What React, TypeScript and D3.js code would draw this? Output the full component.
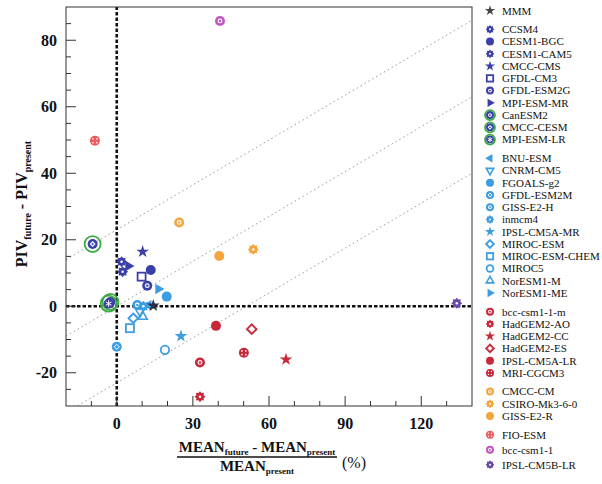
import React from 'react';
import * as d3 from 'd3';

// legend groups, in legend order
const groupMembers = [
  ['MMM'],
  ['CCSM4', 'CESM1-BGC', 'CESM1-CAM5', 'CMCC-CMS', 'GFDL-CM3', 'GFDL-ESM2G', 'MPI-ESM-MR', 'CanESM2', 'CMCC-CESM', 'MPI-ESM-LR'],
  ['BNU-ESM', 'CNRM-CM5', 'FGOALS-g2', 'GFDL-ESM2M', 'GISS-E2-H', 'inmcm4', 'IPSL-CM5A-MR', 'MIROC-ESM', 'MIROC-ESM-CHEM', 'MIROC5', 'NorESM1-M', 'NorESM1-ME'],
  ['bcc-csm1-1-m', 'HadGEM2-AO', 'HadGEM2-CC', 'HadGEM2-ES', 'IPSL-CM5A-LR', 'MRI-CGCM3'],
  ['CMCC-CM', 'CSIRO-Mk3-6-0', 'GISS-E2-R'],
  ['FIO-ESM', 'bcc-csm1-1', 'IPSL-CM5B-LR'],
];

// (MEAN_future - MEAN_present) / MEAN_present, %
const meanChange = [
  14.4,
  1.9, 13.4, 2.3, 10.2, 9.8, 12.0, 4.6, -2.5, -9.5, -3.2,
  12.5, 9.2, 19.7, 0.0, 8.1, 10.5, 25.3, 6.5, 5.2, 19.0, 10.2, 16.4,
  32.8, 32.8, 66.7, 53.2, 39.1, 50.1,
  24.6, 53.8, 40.4,
  -8.6, 40.7, 134.0,
];

// PIV_future - PIV_present
const pivChange = [
  0.2,
  13.4, 10.9, 10.4, 16.4, 8.9, 6.2, 12.1, 1.3, 18.7, 0.8,
  0.3, -1.6, 2.9, -12.2, 0.4, 0.0, -9.0, -3.6, -6.6, -13.1, -3.1, 5.2,
  -16.9, -27.2, -16.0, -6.9, -5.9, -14.0,
  25.2, 17.1, 15.1,
  49.8, 85.8, 0.9,
];

const xTickLabels = [0, 30, 60, 90, 120];
const yTickLabels = [-20, 0, 20, 40, 60, 80];
const guideOffsets = [23, 0, -23];
const guideSlope = 0.45;

const groupColors = ['#2a2f45', '#3a40a8', '#3c9de2', '#c8293a', '#f6a53e', null];
const singleColors: Record<string, string> = {
  'FIO-ESM': '#ee5a5c',
  'bcc-csm1-1': '#c257c4',
  'IPSL-CM5B-LR': '#6a49ab',
};
const shapeOf: Record<string, string> = {
  'MMM': 'star', 'CCSM4': 'gear', 'CESM1-BGC': 'circle', 'CESM1-CAM5': 'gear', 'CMCC-CMS': 'star',
  'GFDL-CM3': 'square', 'GFDL-ESM2G': 'dot', 'MPI-ESM-MR': 'triRight', 'CanESM2': 'dot',
  'CMCC-CESM': 'diamondCircle', 'MPI-ESM-LR': 'asterisk',
  'BNU-ESM': 'triLeft', 'CNRM-CM5': 'triDown', 'FGOALS-g2': 'circle', 'GFDL-ESM2M': 'crossCircle',
  'GISS-E2-H': 'dot', 'inmcm4': 'gear', 'IPSL-CM5A-MR': 'star', 'MIROC-ESM': 'diamond',
  'MIROC-ESM-CHEM': 'square', 'MIROC5': 'ring', 'NorESM1-M': 'triUp', 'NorESM1-ME': 'triRight',
  'bcc-csm1-1-m': 'dot', 'HadGEM2-AO': 'gear', 'HadGEM2-CC': 'star', 'HadGEM2-ES': 'diamond',
  'IPSL-CM5A-LR': 'circle', 'MRI-CGCM3': 'dots',
  'CMCC-CM': 'dot', 'CSIRO-Mk3-6-0': 'gear', 'GISS-E2-R': 'circle',
  'FIO-ESM': 'dots', 'bcc-csm1-1': 'dot', 'IPSL-CM5B-LR': 'gear',
};
const greenRing = ['CanESM2', 'CMCC-CESM', 'MPI-ESM-LR'];

const FONT = '"Liberation Serif", "Times New Roman", serif';

const x = d3.scaleLinear().domain([-20, 140]).range([66, 472]);
const y = d3.scaleLinear().domain([-30, 90]).range([406, 7]);

function gearPath(r: number) {
  const pts: [number, number][] = d3.range(16).map((i) => {
    const a = (i * Math.PI) / 8;
    const rr = i % 2 === 0 ? r : r * 0.72;
    return [rr * Math.cos(a), rr * Math.sin(a)];
  });
  return d3.line().curve(d3.curveLinearClosed)(pts) as string;
}

function diamondPath(r: number) {
  return `M0,${-r}L${r},0L0,${r}L${-r},0Z`;
}

function Marker({ shape, color, r, ring, ringR }: { shape: string; color: string; r: number; ring: boolean; ringR: number }) {
  const sym = (t: d3.SymbolType, k: number) => d3.symbol(t, k * r * r)() as string;
  let body: React.ReactNode = null;
  switch (shape) {
    case 'star':
      body = <path d={sym(d3.symbolStar, 2.0)} fill={color} />;
      break;
    case 'circle':
      body = <circle r={r} fill={color} />;
      break;
    case 'dot':
      body = (
        <g>
          <circle r={r} fill={color} />
          <circle r={r * 0.48} fill="#fff" />
          <circle r={r * 0.24} fill={color} />
        </g>
      );
      break;
    case 'gear':
      body = (
        <g>
          <path d={gearPath(r * 1.1)} fill={color} />
          <circle r={r * 0.25} fill="#fff" />
        </g>
      );
      break;
    case 'square':
      body = <rect x={-r * 0.8} y={-r * 0.8} width={r * 1.6} height={r * 1.6} fill="none" stroke={color} strokeWidth={1.8} />;
      break;
    case 'diamond':
      body = <path d={diamondPath(r * 0.95)} fill="none" stroke={color} strokeWidth={1.9} />;
      break;
    case 'ring':
      body = <circle r={r * 0.85} fill="none" stroke={color} strokeWidth={1.8} />;
      break;
    case 'triUp':
      body = <path d={sym(d3.symbolTriangle, 1.5)} fill="none" stroke={color} strokeWidth={1.6} />;
      break;
    case 'triDown':
      body = <path d={sym(d3.symbolTriangle, 1.5)} transform="rotate(180)" fill="none" stroke={color} strokeWidth={1.6} />;
      break;
    case 'triRight':
      body = <path d={sym(d3.symbolTriangle, 1.9)} transform="rotate(90)" fill={color} />;
      break;
    case 'triLeft':
      body = <path d={sym(d3.symbolTriangle, 1.9)} transform="rotate(-90)" fill={color} />;
      break;
    case 'crossCircle':
      body = (
        <g>
          <circle r={r} fill={color} />
          <path d={diamondPath(r * 0.5)} fill="none" stroke="#fff" strokeWidth={1} />
        </g>
      );
      break;
    case 'dots':
      body = (
        <g>
          <circle r={r} fill={color} />
          {[[-1, -1], [1, -1], [-1, 1], [1, 1]].map(([a, b], i) => (
            <circle key={i} cx={a * r * 0.38} cy={b * r * 0.38} r={r * 0.17} fill="#fff" />
          ))}
        </g>
      );
      break;
    case 'diamondCircle':
      body = (
        <g>
          <circle r={r} fill={color} />
          <path d={diamondPath(r * 0.6)} fill="#fff" />
          <circle r={r * 0.22} fill={color} />
        </g>
      );
      break;
    case 'asterisk':
      body = (
        <g>
          <circle r={r} fill={color} />
          <path d={sym(d3.symbolAsterisk, 1.2)} stroke="#fff" strokeWidth={1} />
        </g>
      );
      break;
    default:
      body = <circle r={r} fill={color} />;
  }
  return (
    <g>
      {body}
      {ring && <circle r={ringR} fill="none" stroke="#3caa45" strokeWidth={1.8} />}
    </g>
  );
}

const models = groupMembers.flat();
const groupOf = groupMembers.flatMap((g, gi) => g.map(() => gi));
const colorOf = (name: string, gi: number) => singleColors[name] || (groupColors[gi] as string);

// legend row positions: fixed step, extra gap between groups
const legendRows: number[] = [];
{
  let yy = 10.7;
  groupMembers.forEach((g, gi) => {
    if (gi > 0) yy += 6.4;
    g.forEach(() => {
      legendRows.push(yy);
      yy += gi === 5 ? 15 : 12.25;
    });
  });
}

export default function App() {
  const [x0, x1] = x.range();
  const [y0, y1] = y.range();
  const xMinor = d3.range(-10, 140, 10);
  const yMinor = d3.range(-25, 90, 5);

  // draw order: later points on top, MMM last
  const order = models.map((_, i) => i).slice(1).concat([0]);

  return (
    <svg width={602} height={484} style={{ position: 'absolute', left: 0, top: 0, background: '#fff' }} fontFamily={FONT}>
      <defs>
        <clipPath id="plot">
          <rect x={x0} y={y1} width={x1 - x0} height={y0 - y1} />
        </clipPath>
      </defs>

      {/* dotted guide lines */}
      <g clipPath="url(#plot)">
        {guideOffsets.map((c) => (
          <line
            key={c}
            x1={x(-20)}
            y1={y(guideSlope * -20 + c)}
            x2={x(140)}
            y2={y(guideSlope * 140 + c)}
            stroke="#9a9a9a"
            strokeWidth={1}
            strokeDasharray="1.5,3"
          />
        ))}
        <line x1={x0} x2={x1} y1={y(0)} y2={y(0)} stroke="#111" strokeWidth={2.6} strokeDasharray="3.5,2" />
        <line x1={x(0)} x2={x(0)} y1={y0} y2={y1} stroke="#111" strokeWidth={2.6} strokeDasharray="3.5,2" />
      </g>

      {/* frame */}
      <rect x={x0} y={y1} width={x1 - x0} height={y0 - y1} fill="none" stroke="#333" strokeWidth={1} />

      {/* ticks */}
      {xMinor.map((t) => (
        <line key={'xt' + t} x1={x(t)} x2={x(t)} y1={y0} y2={y0 - (t % 30 === 0 ? 10 : 5)} stroke="#333" strokeWidth={1} />
      ))}
      {yMinor.map((t) => (
        <line key={'yt' + t} x1={x0} x2={x0 + (t % 20 === 0 ? 10 : 5)} y1={y(t)} y2={y(t)} stroke="#333" strokeWidth={1} />
      ))}
      {xTickLabels.map((t) => (
        <text key={'xl' + t} x={x(t)} y={429} textAnchor="middle" fontSize={16} fontWeight="bold" fill="#111">
          {t}
        </text>
      ))}
      {yTickLabels.map((t) => (
        <text key={'yl' + t} x={57} y={y(t)} dy="0.35em" textAnchor="end" fontSize={16} fontWeight="bold" fill="#111">
          {t}
        </text>
      ))}

      {/* axis titles */}
      <text transform="translate(27,204) rotate(-90)" textAnchor="middle" fontSize={16} fontWeight="bold" fill="#111">
        PIV<tspan fontSize={10} dy={4}>future</tspan>
        <tspan dy={-4}> - PIV</tspan>
        <tspan fontSize={10} dy={4}>present</tspan>
      </text>
      <text x={257} y={452} textAnchor="middle" fontSize={15} fontWeight="bold" fill="#111">
        MEAN<tspan fontSize={9} dy={3}>future</tspan>
        <tspan dy={-3}> - MEAN</tspan>
        <tspan fontSize={9} dy={3}>present</tspan>
      </text>
      <line x1={177} x2={337} y1={457} y2={457} stroke="#111" strokeWidth={1.3} />
      <text x={257} y={471} textAnchor="middle" fontSize={15} fontWeight="bold" fill="#111">
        MEAN<tspan fontSize={9} dy={3}>present</tspan>
      </text>
      <text x={342} y={468} fontSize={16} fill="#111">
        (%)
      </text>

      {/* points */}
      <g clipPath="url(#plot)">
        {order.map((i) => {
          const name = models[i];
          return (
            <g key={name} transform={`translate(${x(meanChange[i])},${y(pivChange[i])})`}>
              <Marker
                shape={shapeOf[name]}
                color={colorOf(name, groupOf[i])}
                r={5}
                ring={greenRing.includes(name)}
                ringR={8}
              />
            </g>
          );
        })}
      </g>

      {/* legend */}
      {models.map((name, i) => (
        <g key={'lg' + name} transform={`translate(0,${legendRows[i]})`}>
          <g transform="translate(490,0)">
            <Marker
              shape={shapeOf[name]}
              color={name === 'MMM' ? '#444' : colorOf(name, groupOf[i])}
              r={4}
              ring={greenRing.includes(name)}
              ringR={5}
            />
          </g>
          <text x={502} dy="0.35em" fontSize={11} fill="#111">
            {name}
          </text>
        </g>
      ))}
    </svg>
  );
}
